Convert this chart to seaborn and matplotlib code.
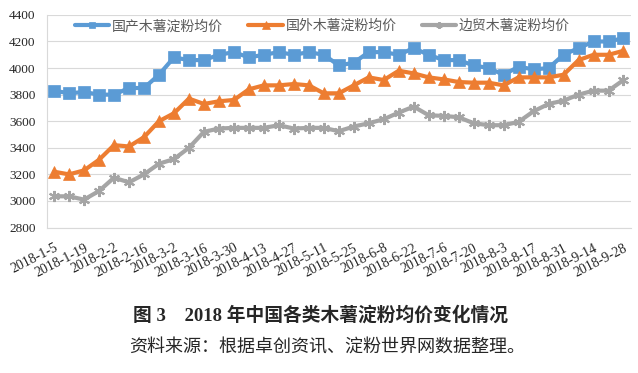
import pandas as pd
import matplotlib.pyplot as plt
import seaborn as sns

# weekly prices, 2018-1-5 .. 2018-9-28 (yuan/ton)
weeks = pd.date_range("2018-01-05", periods=39, freq="7D")
week_labels = [f"{d.year}-{d.month}-{d.day}" for d in weeks]

domestic = [3830, 3810, 3820, 3800, 3800, 3850, 3850, 3950, 4080, 4060,
            4060, 4100, 4120, 4080, 4100, 4120, 4100, 4120, 4100, 4020,
            4040, 4120, 4120, 4100, 4150, 4100, 4060, 4060, 4020, 4000,
            3950, 4010, 3990, 4000, 4100, 4150, 4200, 4200, 4225]
foreign = [3220, 3200, 3230, 3310, 3420, 3410, 3480, 3600, 3660, 3770,
           3730, 3750, 3760, 3840, 3870, 3870, 3880, 3870, 3810, 3810,
           3870, 3930, 3910, 3980, 3960, 3930, 3915, 3895, 3890, 3890,
           3870, 3930, 3930, 3930, 3950, 4060, 4100, 4100, 4130]
border = [3035, 3035, 3010, 3075, 3175, 3140, 3200, 3280, 3315, 3400,
          3520, 3545, 3550, 3550, 3550, 3570, 3545, 3550, 3550, 3525,
          3560, 3585, 3615, 3665, 3710, 3645, 3640, 3630, 3585, 3570,
          3570, 3595, 3675, 3730, 3755, 3800, 3830, 3830, 3910]

series_names = ["国产木薯淀粉均价", "国外木薯淀粉均价", "边贸木薯淀粉均价"]
colors = ["#5B9BD5", "#ED7D31", "#A5A5A5"]
markers = ["s", "^", (6, 2, 0)]

sns.set_style("white")
plt.rcParams["font.family"] = ["Liberation Serif", "Noto Sans CJK SC"]

fig = plt.figure(figsize=(6.38, 3.73), dpi=100)
ax = fig.add_axes([0.073, 0.390, 0.916, 0.570])

x = list(range(len(weeks)))
for name, vals, c, m in zip(series_names, [domestic, foreign, border], colors, markers):
    sns.lineplot(x=x, y=vals, ax=ax, color=c, linewidth=3, marker=m,
                 markersize=8 if m != "^" else 8.5, markeredgecolor=c,
                 markeredgewidth=1.5 if m == markers[2] else 0.5, label=name)

ax.set_xlim(-0.5, len(weeks) - 0.5)
ax.set_ylim(2800, 4400)
ax.set_yticks(range(2800, 4401, 200))
ax.set_xticks(x[::2])
ax.set_xticklabels(week_labels[::2], rotation=27, ha="right", rotation_mode="anchor",
                   fontsize=10, family="Liberation Serif")
ax.tick_params(axis="y", labelsize=9.5, length=0, pad=8)
ax.tick_params(axis="x", length=0, pad=10)
for lab in ax.get_yticklabels():
    lab.set_family("Liberation Serif")
ax.grid(axis="y", color="#D9D9D9", linewidth=0.8)
ax.set_axisbelow(True)
for s in ["top", "right"]:
    ax.spines[s].set_visible(False)
for s in ["left", "bottom"]:
    ax.spines[s].set_color("#D9D9D9")
    ax.spines[s].set_linewidth(0.8)

leg = ax.legend(loc="center", bbox_to_anchor=(0.472, 0.948), ncol=3, frameon=False,
                handlelength=2.5, columnspacing=1.8, handletextpad=0.2, markerscale=0.6,
                prop={"family": "Noto Sans CJK SC", "size": 10})
for t in leg.get_texts():
    t.set_color("#595959")

fig.text(0.502, 1 - 315 / 373, "图 3　2018 年中国各类木薯淀粉均价变化情况",
         ha="center", va="center", fontsize=13.5, fontweight="bold",
         family=["Liberation Serif", "Noto Sans CJK SC"])
fig.text(0.513, 1 - 348 / 373, "资料来源：根据卓创资讯、淀粉世界网数据整理。",
         ha="center", va="center", fontsize=13,
         family=["Liberation Serif", "Noto Sans CJK SC"])

plt.savefig("out.png", dpi=100)
plt.close()
